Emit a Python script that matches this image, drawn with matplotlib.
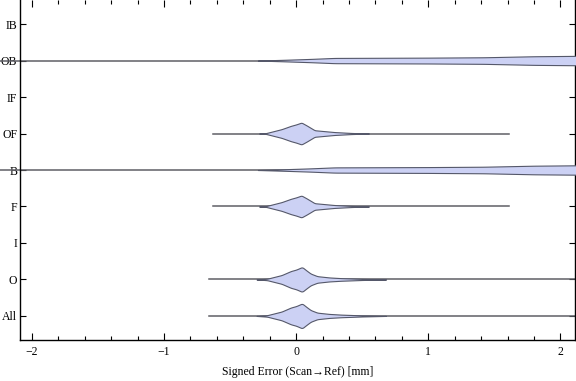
import numpy as np
import matplotlib.pyplot as plt
from matplotlib.ticker import MultipleLocator

# categories from bottom to top
cats = ['All', 'O', 'I', 'F', 'B', 'OF', 'IF', 'OB', 'IB']

# whisker ranges (min, max) of the signed error per category
lo = {'All': -0.66, 'O': -0.66, 'F': -0.63, 'B': -2.3, 'OF': -0.63, 'OB': -2.3}
hi = {'All': 2.3, 'O': 2.3, 'F': 1.61, 'B': 2.3, 'OF': 1.61, 'OB': 2.3}

# density outline (half width, relative to category spacing)
core_x = [-0.30, -0.22, -0.11, -0.04, 0.00, 0.045, 0.08, 0.11, 0.16, 0.25, 0.34, 0.50, 0.68]
core_w = [0.0, 0.02, 0.12, 0.23, 0.27, 0.34, 0.24, 0.16, 0.09, 0.055, 0.036, 0.015, 0.0]
sub_x = [-0.28, -0.23, -0.11, -0.04, 0.00, 0.04, 0.08, 0.11, 0.14, 0.29, 0.42, 0.55]
sub_w = [0.0, 0.01, 0.12, 0.21, 0.25, 0.30, 0.22, 0.155, 0.09, 0.04, 0.015, 0.0]
wide_x = [-0.29, -0.10, 0.11, 0.29, 1.00, 1.42, 1.80, 2.10, 2.30]
wide_w = [0.0, 0.02, 0.045, 0.072, 0.08, 0.09, 0.118, 0.128, 0.13]

shape = {'All': (core_x, core_w), 'O': (core_x, core_w),
         'F': (sub_x, sub_w), 'OF': (sub_x, sub_w),
         'B': (wide_x, wide_w), 'OB': (wide_x, wide_w)}

plt.rcParams['font.family'] = ['Liberation Serif', 'DejaVu Serif']
fig = plt.figure(figsize=(5.76, 3.81), dpi=100)
ax = fig.add_axes([20/576, 1-340/381, 555/576, 340/381])

fill_col = '#ccd1f4'
edge_col = '#55586a'
for i, c in enumerate(cats):
    y = i + 1
    if c not in shape:
        continue
    # long whiskers of B/OB run out past the frame on the left
    ax.plot([lo[c], hi[c]], [y, y], color='#5f5f66', lw=1.1, zorder=2,
            clip_on=(lo[c] > -2))
    xs, ws = shape[c]
    xx = np.linspace(xs[0], xs[-1], 400)
    ww = np.interp(xx, xs, ws)
    k = np.ones(9) / 9
    ww = np.convolve(np.pad(ww, 4, mode='edge'), k, mode='valid')
    ww[0] = 0
    if ws[-1] == 0:
        ww[-1] = 0
    ax.fill_between(xx, y - ww, y + ww, facecolor=fill_col, edgecolor=edge_col, lw=0.8, zorder=3)

ax.set_xlim(-2.09, 2.11)
ax.set_ylim(0.34, 9.66)
ax.set_yticks(range(1, len(cats) + 1))
ax.set_yticklabels(cats, fontsize=8.5)
ax.xaxis.set_minor_locator(MultipleLocator(0.2))
ax.set_xticks([-2, -1, 0, 1, 2])
ax.set_xticklabels(['\u22122', '\u22121', '0', '1', '2'], fontsize=8.5)
ax.tick_params(axis='both', which='both', direction='in', top=True, right=True, width=0.8)
ax.tick_params(axis='x', which='major', length=5, pad=4)
ax.tick_params(axis='x', which='minor', length=3)
ax.tick_params(axis='y', length=4, pad=2)
ax.spines['top'].set_visible(False)
for s in ['left', 'right', 'bottom']:
    ax.spines[s].set_linewidth(1.0)
ax.set_xlabel('Signed Error (Scan\u2192Ref) [mm]', fontsize=8.5, labelpad=6)

plt.savefig('out.png', dpi=100)
